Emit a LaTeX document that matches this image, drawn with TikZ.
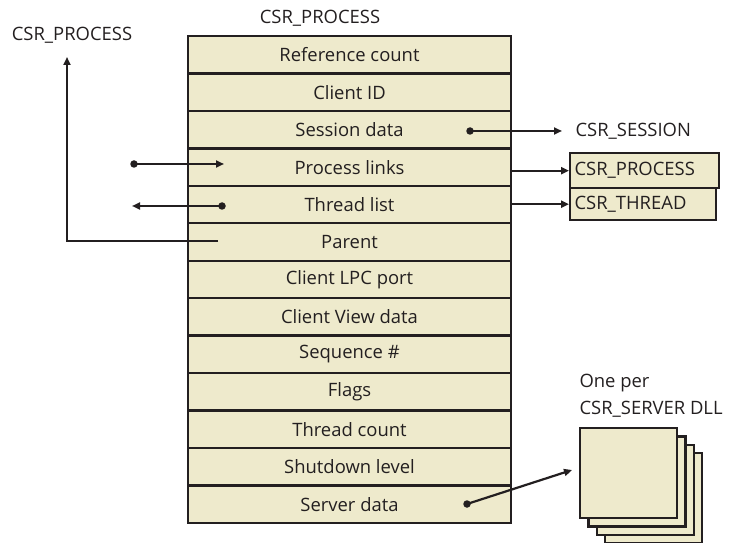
\documentclass[tikz,border=0pt]{standalone}
\usepackage{fontspec}
\setmainfont{Open Sans}
\usetikzlibrary{arrows.meta}
\definecolor{fillc}{RGB}{238,234,204}
\definecolor{ink}{RGB}{35,31,32}
\tikzset{
  every node/.style={font=\fontsize{18.5}{21}\selectfont, text=ink},
  row/.style={draw=ink, line width=2.4bp, fill=fillc, minimum width=323bp, minimum height=37.46bp, inner sep=0pt, anchor=center},
  lbox/.style={draw=ink, line width=2.4bp, fill=fillc, inner sep=0pt, anchor=north west},
  page/.style={draw=ink, line width=2.4bp, fill=fillc},
  conn/.style={draw=ink, line width=2.2bp, -{Triangle[length=8bp,width=7bp]}},
  dotc/.style={fill=ink, draw=none, circle, minimum size=7.5bp, inner sep=0pt},
}
\begin{document}
\begin{tikzpicture}[x=1bp,y=-1bp]
\useasboundingbox (0,0) rectangle (735,543);
% title
\node (title) at (320,18) {CSR\_PROCESS};
\node (ltitle) at (72,35) {CSR\_PROCESS};
% rows
\foreach \i/\t/\n in {0/Reference count/r0,1/Client ID/r1,2/Session data/r2,3/Process links/r3,4/Thread list/r4,5/Parent/r5,6/Client LPC port/r6,7/Client View data/r7,8/Sequence \#/r8,9/Flags/r9,10/Thread count/r10,11/Shutdown level/r11,12/Server data/r12}{
  \node[row] (\n) at (349.5,{36+37.46*(\i+0.5)}) {\t};
}
% right boxes
\node[lbox, minimum width=149bp, minimum height=35bp] (bproc) at (569,152) {};
\node[anchor=west] (tproc) at ([xshift=2bp]bproc.west) {CSR\_PROCESS};
\node[lbox, minimum width=146bp, minimum height=32bp] (bthr) at (569,187) {};
\node[anchor=west] (tthr) at ([xshift=2bp]bthr.west) {CSR\_THREAD};
% session
\node[anchor=west] (sess) at (572,131) {CSR\_SESSION};
% stacked pages
\foreach \k in {3,2,1,0}{
  \node[page, minimum width=97bp, minimum height=90bp, anchor=north west, inner sep=0pt] (pg\k) at ({579+8.3*\k},{427+8.3*\k}) {};
}
\node[anchor=west] (oneper) at (576,383) {One per};
\node[anchor=west] (csrdll) at (576,409) {CSR\_SERVER DLL};
% coordinates
\node[dotc] (d2) at (470,131) {};
\coordinate (s2) at (562,131);
\node[dotc] (d3) at (134,164) {};
\coordinate (e3) at (224,164);
\node[dotc] (d4) at (222,206) {};
\coordinate (e4) at (132,206);
\coordinate (p5) at (218,241);
\coordinate (up) at (67,57);
\node[dotc] (d12) at (467,504) {};
\coordinate (e12) at (572,470);
% connectors
\draw[conn] (d2.center) -- (s2);
\draw[conn] (d3.center) -- (e3);
\draw[conn] (d4.center) -- (e4);
\draw[conn] (p5) -| (up);
\draw[conn] (r3.east |- bproc.west) -- (bproc.west);
\draw[conn] (r4.east |- bthr.west) -- (bthr.west);
\draw[conn] (d12.center) -- (e12);
\end{tikzpicture}
\end{document}
